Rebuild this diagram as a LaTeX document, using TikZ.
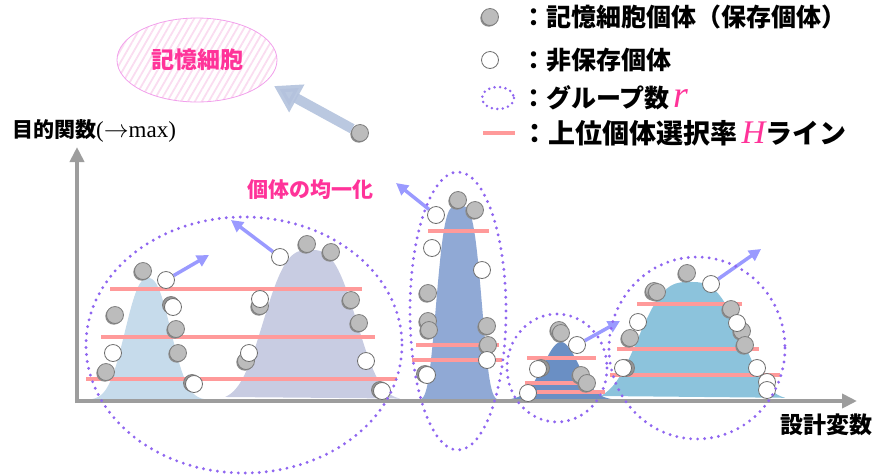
\documentclass[tikz,border=0pt]{standalone}
\usepackage{fontspec}
\setmainfont{Liberation Serif}
\newfontfamily\jp{Noto Sans CJK JP}
\usetikzlibrary{arrows.meta,shapes.geometric,patterns.meta,shadows}
\definecolor{cgray}{HTML}{BCBCBC}
\definecolor{cgrayd}{HTML}{7E7E7E}
\definecolor{cwd}{HTML}{6E6E6E}
\definecolor{cline}{HTML}{FF9A9A}
\definecolor{cpurple}{HTML}{8F66F0}
\definecolor{carrow}{HTML}{9A9AFF}
\definecolor{cbig}{HTML}{B3C2DD}
\definecolor{cpinktxt}{HTML}{FF3399}
\definecolor{chatch}{HTML}{FADCF0}
\definecolor{cmemb}{HTML}{F2A0EC}
\definecolor{caxis}{HTML}{9D9D9D}
\definecolor{pA}{HTML}{C6DBEB}
\definecolor{pB}{HTML}{C8CCE2}
\definecolor{pC}{HTML}{90A9D5}
\definecolor{pD}{HTML}{6A8FC4}
\definecolor{pE}{HTML}{8CC3DC}
\begin{document}
\begin{tikzpicture}[x=1pt,y=-1pt,
  gc/.style={circle,fill=cgray,draw=cgrayd,line width=0.8pt,minimum size=17pt,inner sep=0pt,
    drop shadow={shadow xshift=-1.2pt,shadow yshift=-1.2pt,fill=black!45,opacity=1}},
  wc/.style={circle,fill=white,draw=cwd,line width=0.8pt,minimum size=17pt,inner sep=0pt},
  gb/.style={circle,fill=cgray!80!black,draw=cgrayd,line width=0.8pt,minimum size=17pt,inner sep=0pt},
  hline/.style={draw=cline,line width=3.5pt},
  grp/.style={draw=cpurple,line width=3.2pt,line cap=round,dash pattern=on 0pt off 7pt},
  marrow/.style={draw=carrow,line width=3.5pt,-{Triangle[length=12pt,width=12pt]}},
  axis/.style={draw=caxis,line width=4.5pt,-{Triangle[length=15pt,width=14pt]}},
  lgtxt/.style={anchor=west,inner sep=0pt,font=\jp\bfseries\fontsize{25}{27}\selectfont},
]
\useasboundingbox (0,0) rectangle (878,475);

% ---------- peaks ----------
\fill[pA] plot[domain=86:215,samples=100] (\x,{400-122*exp(-(abs(\x-148)/29)^2.4)}) -- cycle;
\fill[pB] plot[domain=225:400,samples=100] (\x,{400-150*exp(-(abs(\x-310)/54)^3)}) -- cycle;
\fill[pC] plot[domain=412:508,samples=100] (\x,{400-194*exp(-(abs(\x-459)/25)^4)}) -- cycle;
\fill[pD] plot[domain=510:612,samples=80] (\x,{400-58*exp(-((\x-561)/25)^2)}) -- cycle;
\fill[pE] plot[domain=600:785,samples=100] (\x,{400-118*exp(-(abs(\x-690)/60)^3)}) -- cycle;

% ---------- axes ----------
\coordinate (org) at (77,401);
\coordinate (ytip) at (77,147);
\coordinate (xtip) at (857,401);
\draw[axis] ([yshift=-2.2pt]org) -- (ytip);
\draw[axis] ([xshift=-2.2pt]org) -- (xtip);
\node[anchor=west,inner sep=0pt] (ylab) at (12,131)
  {{\jp\bfseries\fontsize{21}{24}\selectfont 目的関数}{\fontsize{23}{24}\selectfont($\rightarrow$max)}};
\node[inner sep=0pt,font=\jp\bfseries\fontsize{23}{26}\selectfont] (xlab) at (826,425) {設計変数};

% ---------- H lines ----------
\draw[hline] (110,289) -- (362,289);
\draw[hline] (101,337) -- (375,337);
\draw[hline] (86,379) -- (397,379);
\draw[hline] (428,231) -- (489,231);
\draw[hline] (416,345) -- (499,345);
\draw[hline] (412,360) -- (502,360);
\draw[hline] (527,358) -- (596,358);
\draw[hline] (525,383) -- (593,383);
\draw[hline] (537,392) -- (605,392);
\draw[hline] (637,304) -- (742,304);
\draw[hline] (617,349) -- (759,349);
\draw[hline] (610,375) -- (780,375);

% ---------- cluster 1 ----------
\node[gc] (a1) at (143,271) {};
\node[wc] (a2) at (166,280) {};
\node[gc] (a3) at (115,315) {};
\node[gb] (a4b) at (171,305) {};
\node[wc] (a4) at (173,307) {};
\node[gc] (a5) at (176,329) {};
\node[wc] (a6) at (113,353) {};
\node[gc] (a7) at (178,353) {};
\node[gc] (a8) at (106,372) {};
\node[gb] (a9b) at (192,383) {};
\node[wc] (a9) at (194,384) {};
\node[wc] (a19) at (280,257) {};
\node[gc] (a10) at (307,244) {};
\node[gc] (a11) at (331,252) {};
\node[gc] (a12b) at (260,306) {};
\node[wc] (a12) at (260,299) {};
\node[gc] (a13) at (351,300) {};
\node[gc] (a14) at (359,323) {};
\node[gc] (a15) at (246,361) {};
\node[wc] (a16) at (249,353) {};
\node[wc] (a17) at (366,361) {};
\node[gb] (a18b) at (380,390) {};
\node[wc] (a18) at (382,391) {};

% ---------- cluster 2 ----------
\node[gc] (b1) at (458,200) {};
\node[gc] (b2) at (475,210) {};
\node[wc] (b3) at (436,215) {};
\node[wc] (b4) at (432,248) {};
\node[wc] (b5) at (482,270) {};
\node[gc] (b6) at (428,293) {};
\node[gc] (b7) at (428,321) {};
\node[gc] (b8) at (429,330) {};
\node[gc] (b9) at (487,326) {};
\node[gc] (b10) at (488,345) {};
\node[wc] (b11) at (487,360) {};
\node[gb] (b12b) at (425,374) {};
\node[wc] (b12) at (427,375) {};

% ---------- cluster 3 ----------
\node[gc] (c1b) at (559,330) {};
\node[gc] (c1) at (561,333) {};
\node[wc] (c2) at (577,345) {};
\node[gb] (c3b) at (541,368) {};
\node[wc] (c3) at (538,369) {};
\node[gc] (c4) at (581,375) {};
\node[gc] (c5) at (587,383) {};
\node[wc] (c6) at (528,393) {};

% ---------- cluster 4 ----------
\node[gc] (d1) at (687,273) {};
\node[wc] (d2) at (711,284) {};
\node[gc] (d3b) at (654,291) {};
\node[gc] (d3) at (657,292) {};
\node[wc] (d4) at (638,322) {};
\node[gc] (d5) at (630,338) {};
\node[gb] (d6b) at (626,368) {};
\node[wc] (d6) at (623,368) {};
\node[gc] (d7) at (731,309) {};
\node[gc] (d9) at (742,331) {};
\node[wc] (d8) at (737,323) {};
\node[gc] (d10) at (745,345) {};
\node[wc] (d11) at (757,368) {};
\node[wc] (d12) at (767,382) {};
\node[wc] (d13) at (767,390) {};

% ---------- move arrows ----------
\coordinate (ta) at (209,255);
\coordinate (tb) at (231,220);
\coordinate (tc) at (396,183);
\coordinate (td) at (620,321);
\coordinate (te) at (761,249);
\draw[marrow] (a2) -- (ta);
\draw[marrow] (a19) -- (tb);
\draw[marrow] (b3) -- (tc);
\draw[marrow] (c2) -- (td);
\draw[marrow] (d2) -- (te);
\node[inner sep=0pt,text=cpinktxt,font=\jp\bfseries\fontsize{21}{24}\selectfont] (unif) at (310,190) {個体の均一化};

% ---------- group ellipses ----------
\draw[grp] (244,345) ellipse [x radius=158,y radius=128];
\draw[grp] (458,311) ellipse [x radius=48,y radius=139];
\draw[grp] (557,368) ellipse [x radius=50,y radius=54];
\draw[grp] (697,348) ellipse [x radius=88,y radius=91];

% ---------- memory cell ----------
\node[ellipse,minimum width=160pt,minimum height=84pt,draw=cmemb,line width=0.8pt,
  pattern={Lines[angle=60,distance=6pt,line width=1.8pt]},pattern color=chatch,
  text=cpinktxt,font=\jp\bfseries\fontsize{23}{26}\selectfont] (mem) at (197,60) {記憶細胞};
\node[gc] (m0) at (360,133) {};
\coordinate (mt) at (274,86);
\draw[draw=cbig,opacity=0.9,line width=10pt,-{Triangle[length=26pt,width=30pt]}] (m0) -- (mt);

% ---------- legend ----------
\node[gc] (lg1) at (490,17) {};
\node[lgtxt] (lt1) at (521,17) {：記憶細胞個体（保存個体）};
\node[wc] (lg2) at (490,60) {};
\node[lgtxt] (lt2) at (521,60) {：非保存個体};
\draw[grp,line width=2.8pt,dash pattern=on 0pt off 5.5pt] (498,98) ellipse [x radius=16,y radius=11];
\node[lgtxt] (lt3) at (521,98) {：グループ数\,{\rmfamily\mdseries\color{cpinktxt}\fontsize{38}{38}\selectfont\itshape r}};
\draw[hline] (483,133) -- (515,133);
\node[lgtxt,font=\jp\bfseries\fontsize{27}{29}\selectfont] (lt4) at (521,133) {：上位個体選択率\,{\rmfamily\mdseries\color{cpinktxt}\fontsize{33}{33}\selectfont\itshape H}ライン};
\end{tikzpicture}
\end{document}
